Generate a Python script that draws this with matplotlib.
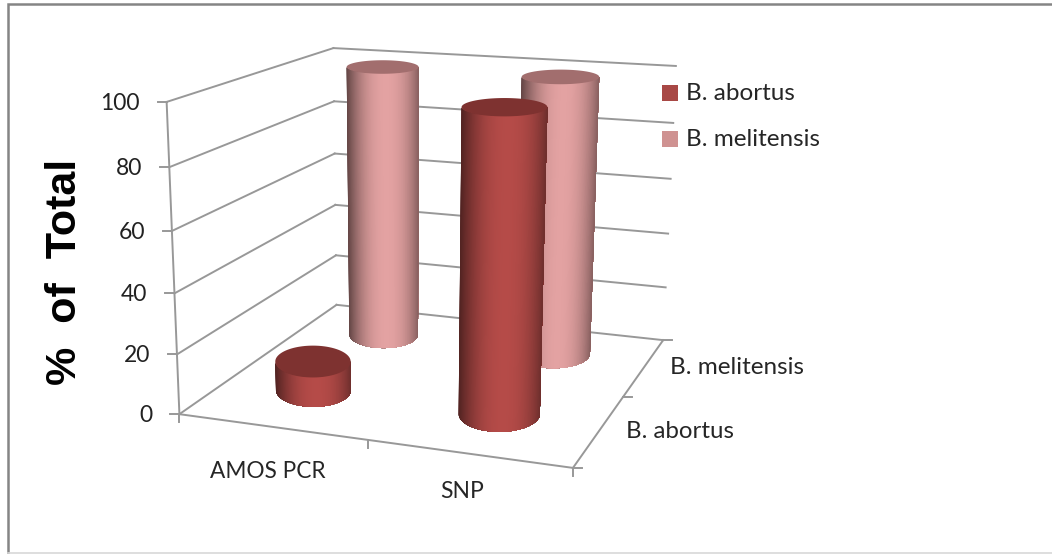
import numpy as np
import matplotlib
matplotlib.use("Agg")
import matplotlib.pyplot as plt
from matplotlib.patches import Rectangle
from matplotlib.colors import to_rgb

# ---- data ----
categories = ["AMOS PCR", "SNP"]
series_names = ["B. abortus", "B. melitensis"]
abortus = [10, 98.5]
melitensis = [98.5, 98.5]
value_ticks = [0, 20, 40, 60, 80, 100]

# ---- style ----
colors = {"B. abortus": "#A84845", "B. melitensis": "#CF9291"}
peak = {"B. abortus": "#B54B48", "B. melitensis": "#E3A2A2"}
cap = {"B. abortus": "#7E3230", "B. melitensis": "#A26E6E"}
GRID = "#989898"
TXT = "#262626"

# ---- camera: box corners (x, depth, value) to picture pixels ----
world = np.array([[0,0,0],[2,0,0],[2,2,0],[0,2,0],[0,0,100],[0,2,100],[2,2,100]], float)
pixels = np.array([[179,414],[573,468],[663,340],[337,305],[167,102],[333,48],[676,66]], float)
A, b = [], []
for (X, Y, Z), (u, v) in zip(world, pixels):
    A.append([X, Y, Z, 1, 0, 0, 0, 0, -u*X, -u*Y, -u*Z]); b.append(u)
    A.append([0, 0, 0, 0, X, Y, Z, 1, -v*X, -v*Y, -v*Z]); b.append(v)
p = np.linalg.lstsq(np.array(A), np.array(b), rcond=None)[0]
M = np.append(p, 1).reshape(3, 4)

def P(x, y, z):
    q = M @ np.array([x, y, z, 1.0])
    return q[:2] / q[2]

fig = plt.figure(figsize=(10.52, 5.54), dpi=100, facecolor="white")
ax = fig.add_axes([0, 0, 1, 1])
ax.set_xlim(0, 1052); ax.set_ylim(554, 0); ax.axis("off")

# outer frame
ax.plot([8, 8, 1052], [554, 4, 4], color="#858585", lw=1.8, solid_joinstyle="miter")
ax.plot([8, 1052], [553, 553], color="#d8d8d8", lw=1.2)

def seg(a, b, **kw):
    ax.plot([a[0], b[0]], [a[1], b[1]], color=GRID, lw=kw.pop("lw", 1.4), zorder=2, **kw)

LAB = "Lato"

# walls and gridlines
for v in value_ticks:
    seg(P(0, 0, v), P(0, 2, v))
    seg(P(0, 2, v), P(2, 2, v))
    f = P(0, 0, v)
    seg(f, (f[0]-9, f[1]))
    ax.text(f[0]-27, f[1]+1.5, str(v), ha="right", va="center", fontsize=16.5,
            family=LAB, color="#222222")
seg(P(0, 0, 0), P(0, 0, 100))
seg(P(0, 0, 0), P(2, 0, 0))
seg(P(2, 0, 0), P(2, 2, 0))
for i in range(3):
    a = P(i, 0, 0)
    seg(a, (a[0], a[1]+8))
    c = P(2, i, 0)
    seg(c, (c[0]+9, c[1]))

RX, RY = 0.21, 0.27
DEPTH_SHIFT = 0.05
SIDE_SHIFT = -0.02

def radii(x, y, z):
    d = 0.2
    rx = abs(P(x+d, y, z)[0]-P(x-d, y, z)[0]) / (2*d) * RX
    ry = abs(P(x, y+d, z)[1]-P(x, y-d, z)[1]) / (2*d) * RY
    return rx, ry

def cylinder(x, y, val, name):
    c0 = P(x, y, 0); c1 = P(x, y, val)
    r0 = radii(x, y, 0); r1 = radii(x, y, val)
    base = np.array(to_rgb(colors[name])); top = np.array(to_rgb(peak[name]))
    dark = base * 0.58
    ts = np.linspace(np.pi, 0, 121)
    for t0 in ts[:-1]:
        # each slice reaches to the right edge; the next overpaints it, so no seams show
        tail = ts[ts <= t0]
        u = np.cos(t0)
        s = 1-abs(u - 0.08)**2.2
        col = np.clip(dark + (top-dark)*s, 0, 1)
        xs = np.r_[c0[0]+r0[0]*np.cos(tail), (c1[0]+r1[0]*np.cos(tail))[::-1]]
        ys = np.r_[c0[1]+r0[1]*np.sin(tail), (c1[1]+r1[1]*np.sin(tail))[::-1]]
        ax.fill(xs, ys, color=col, lw=0, zorder=3)
    th = np.linspace(0, 2*np.pi, 120)
    ax.fill(c1[0]+r1[0]*np.cos(th), c1[1]+r1[1]*np.sin(th), color=cap[name], lw=0, zorder=3)

marks = []
for j, (name, vals) in enumerate(zip(series_names, [abortus, melitensis])):
    for i, v in enumerate(vals):
        marks.append((j+0.5+DEPTH_SHIFT, i+0.5+SIDE_SHIFT, v, name))
for y, x, v, name in sorted(marks, key=lambda m: -m[0]):
    cylinder(x, y, v, name)

# text
ax.text(268, 471, categories[0], ha="center", va="center", fontsize=16.3, family=LAB, color=TXT)
ax.text(462, 492, categories[1], ha="center", va="center", fontsize=16.5, family=LAB, color=TXT)
ax.text(680, 431, series_names[0], ha="center", va="center", fontsize=17.3, family=LAB, color=TXT)
ax.text(737, 367, series_names[1], ha="center", va="center", fontsize=17.5, family=LAB, color=TXT)
ax.text(65, 272, "%  of  Total", rotation=90, ha="center", va="center", fontsize=31,
        fontweight="bold", family="Liberation Sans", color="black")
for yy, name in zip([93, 139], series_names):
    ax.add_patch(Rectangle((662, yy-8), 16, 16, color=colors[name], lw=0))
    ax.text(686, yy, name, ha="left", va="center", fontsize=17.5, family=LAB, color=TXT)

fig.savefig("out.png", dpi=100)
